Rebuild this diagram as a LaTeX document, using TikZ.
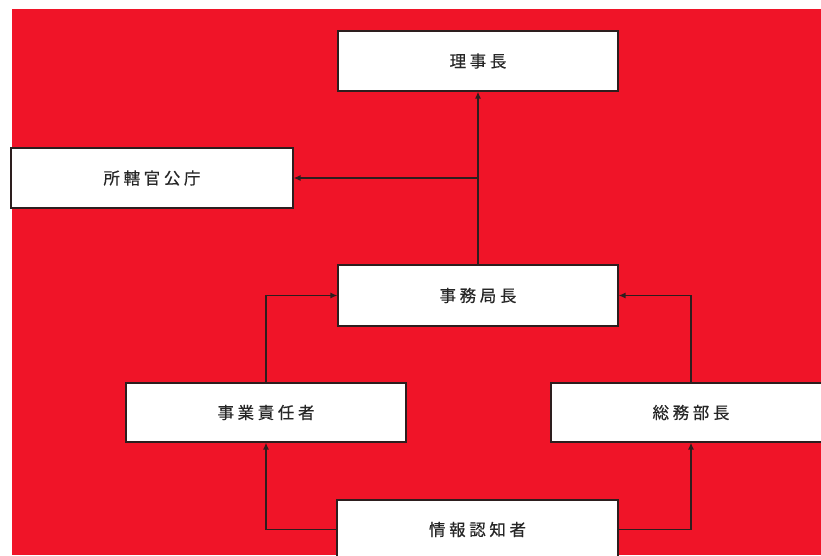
\documentclass[tikz,border=0pt]{standalone}
\usepackage{fontspec}
\newfontfamily\jp[LetterSpace=22,FakeBold=0.4]{Noto Sans CJK JP}
\usetikzlibrary{arrows.meta}
\definecolor{bgred}{RGB}{240,20,40}
\definecolor{edgec}{RGB}{45,30,30}
\begin{document}
\begin{tikzpicture}[x=1pt,y=-1pt,
  box/.style={draw=edgec, line width=1.2pt, fill=white, minimum width=280pt, minimum height=60pt, inner sep=0pt, font=\jp\fontsize{16.5pt}{16.5pt}\selectfont, text=black!85},
  arr/.style={draw=edgec, line width=1.3pt, -{Latex[length=7pt,width=6pt]}}]
\useasboundingbox (0,0) rectangle (821,555);
\clip (0,0) rectangle (821,555);
\fill[white] (0,0) rectangle (821,555);
\fill[bgred] (12,9) rectangle (821,555);
\node[box] (rij) at (478,61) {理事長};
\node[box, minimum width=282pt] (sho) at (152,178) {所轄官公庁};
\node[box, minimum height=61pt] (jim) at (478,295.5) {事務局長};
\node[box, minimum height=59pt] (jigyo) at (266,412.5) {事業責任者};
\node[box, minimum height=59pt] (somu) at (691,412.5) {総務部長};
\node[box, minimum height=59pt, minimum width=281pt] (info) at (477.5,529.5) {情報認知者};
\coordinate (branch) at (jim.north |- sho.east);
\draw[arr] (jim.north) -- (rij.south);
\draw[arr] (branch) -- (sho.east);
\draw[arr] (jigyo.north) |- (jim.west);
\draw[arr] (somu.north) |- (jim.east);
\draw[arr] (info.west) -| (jigyo.south);
\draw[arr] (info.east) -| (somu.south);
\end{tikzpicture}
\end{document}
